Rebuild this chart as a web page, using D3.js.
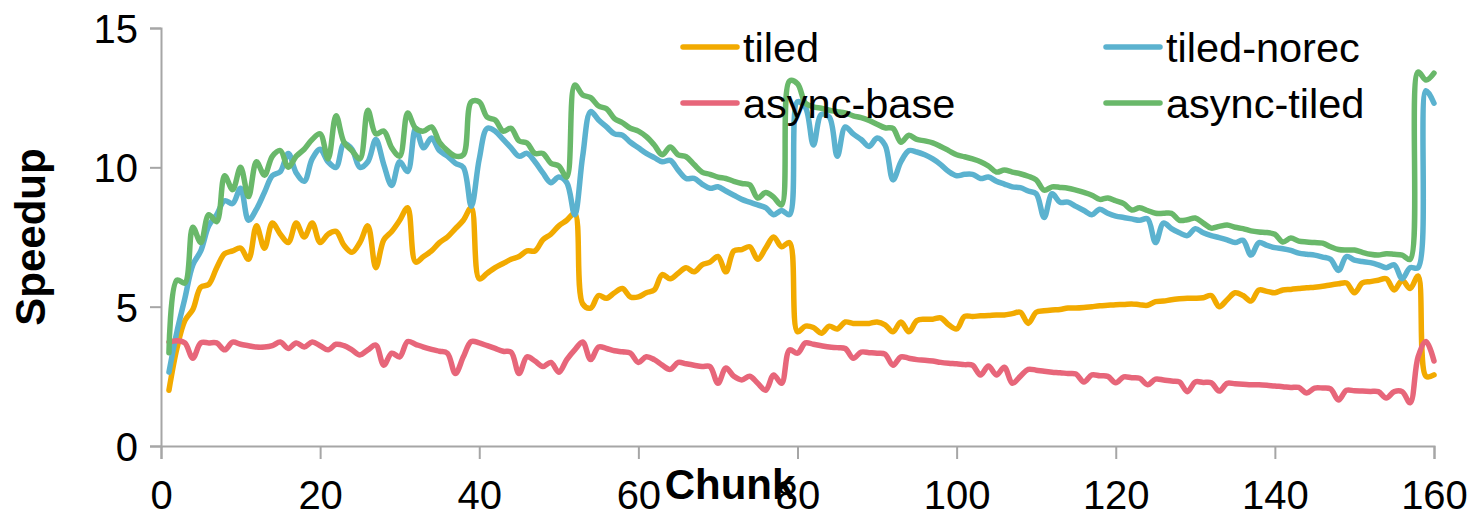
<!DOCTYPE html>
<html>
<head>
<meta charset="utf-8">
<script src="https://cdn.jsdelivr.net/npm/d3@7"></script>
<style>
  body { margin: 0; background: #fff; }
  svg { display: block; font-family: Arial, "Liberation Sans", sans-serif; }
</style>
</head>
<body>
<svg id="chart"></svg>
<script>
// Chart data: speedup per chunk (chunks 1..160)
const chunks = d3.range(1, 161);

const tiled = [
  2.0, 3.5, 4.5, 4.9, 5.7, 5.8, 6.4, 6.9, 7.0, 7.1,
  6.7, 7.9, 7.1, 8.0, 7.6, 7.3, 8.0, 7.5, 8.0, 7.3,
  7.6, 7.7, 7.2, 6.95, 7.3, 7.9, 6.4, 7.4, 7.7, 8.1,
  8.55, 6.6, 6.8, 7.0, 7.3, 7.5, 7.8, 8.1, 8.55, 6.0,
  6.2, 6.4, 6.55, 6.7, 6.8, 7.0, 7.0, 7.4, 7.6, 7.9,
  8.1, 8.35, 5.1, 4.95, 5.4, 5.3, 5.5, 5.65, 5.35, 5.35,
  5.5, 5.6, 6.15, 6.0, 6.2, 6.4, 6.25, 6.5, 6.6, 6.8,
  6.25, 7.0, 7.05, 7.15, 6.7, 7.1, 7.5, 7.15, 7.3, 4.1,
  4.3, 4.25, 4.05, 4.3, 4.2, 4.45, 4.4, 4.4, 4.4, 4.45,
  4.35, 4.1, 4.45, 4.1, 4.5, 4.55, 4.55, 4.6, 4.35, 4.2,
  4.65, 4.65, 4.67, 4.68, 4.7, 4.7, 4.75, 4.8, 4.4, 4.8,
  4.85, 4.88, 4.9, 4.95, 4.95, 4.97, 5.0, 5.03, 5.05, 5.07,
  5.08, 5.1, 5.07, 5.05, 5.18, 5.2, 5.25, 5.28, 5.3, 5.3,
  5.32, 5.4, 5.0, 5.25, 5.5, 5.4, 5.2, 5.6, 5.55, 5.5,
  5.6, 5.62, 5.65, 5.68, 5.7, 5.73, 5.78, 5.82, 5.85, 5.5,
  5.85, 5.9, 5.95, 6.0, 5.6, 5.95, 5.65, 6.1, 2.5, 2.55
];

const tiledNorec = [
  2.65, 4.1, 5.3, 6.5, 7.0, 7.9, 8.3, 8.8, 8.7, 9.25,
  8.1, 8.5, 9.1, 9.7, 9.85, 10.5, 9.8, 9.5, 10.3, 10.65,
  10.2, 10.0, 10.85, 10.65, 10.0, 10.2, 11.0, 10.1, 9.35, 10.2,
  9.85, 11.4, 10.7, 11.05, 10.6, 10.4, 10.15, 10.0, 8.6, 10.3,
  11.4, 11.3, 11.0, 10.7, 10.4, 10.5, 10.2, 9.8, 9.45, 9.65,
  9.45, 8.3, 10.4, 12.0, 11.7, 11.45, 11.2, 11.15, 10.9, 10.7,
  10.5, 10.35, 10.2, 10.25, 9.9, 9.6, 9.6, 9.4, 9.25, 9.3,
  9.15, 9.0, 8.85, 8.75, 8.65, 8.55, 8.3, 8.45, 8.3, 12.35,
  12.15, 10.8, 11.9, 11.8, 10.4, 11.45, 11.2, 11.0, 10.75, 11.05,
  10.8, 9.55, 10.2, 10.6, 10.55, 10.45, 10.3, 10.1, 9.85, 9.7,
  9.75, 9.75, 9.6, 9.65, 9.5, 9.4, 9.3, 9.27, 9.15, 9.05,
  8.2, 9.05, 8.75, 8.75, 8.6, 8.45, 8.3, 8.5, 8.35, 8.25,
  8.2, 8.15, 8.1, 8.15, 7.3, 8.0, 7.8, 7.65, 7.55, 7.8,
  7.65, 7.55, 7.48, 7.4, 7.3, 7.38, 6.85, 7.3, 7.2, 7.12,
  7.08, 7.02, 6.92, 6.88, 6.85, 6.78, 6.7, 6.3, 6.8, 6.67,
  6.62, 6.58, 6.5, 6.4, 6.5, 6.0, 6.4, 6.4, 12.75, 12.3
];

const asyncBase = [
  3.73, 3.78, 3.7, 3.15, 3.7, 3.7, 3.7, 3.45, 3.73, 3.65,
  3.6, 3.55, 3.55, 3.6, 3.73, 3.5, 3.7, 3.55, 3.73, 3.6,
  3.45, 3.65, 3.6, 3.45, 3.27, 3.45, 3.62, 2.9, 3.33, 3.2,
  3.75, 3.65, 3.55, 3.47, 3.4, 3.33, 2.6, 3.2, 3.75, 3.7,
  3.6, 3.5, 3.4, 3.37, 2.6, 3.2, 3.05, 2.85, 3.0, 2.65,
  3.1, 3.45, 3.73, 3.1, 3.55, 3.5, 3.42, 3.38, 3.33, 3.0,
  3.2, 3.1, 2.9, 2.75, 3.0, 2.95, 2.9, 2.85, 2.85, 2.25,
  2.8, 2.5, 2.37, 2.5, 2.25, 2.0, 2.55, 2.25, 3.45, 3.33,
  3.7, 3.65, 3.6, 3.55, 3.53, 3.5, 3.15, 3.37, 3.35, 3.33,
  3.3, 2.9, 3.2, 3.15, 3.1, 3.08, 3.05, 3.0, 2.97, 2.95,
  2.92, 2.9, 2.55, 2.87, 2.55, 2.83, 2.25, 2.5, 2.75, 2.72,
  2.68, 2.65, 2.63, 2.6, 2.58, 2.3, 2.55, 2.52, 2.5, 2.27,
  2.48, 2.45, 2.43, 2.2, 2.4, 2.37, 2.33, 2.3, 1.95, 2.3,
  2.28, 2.27, 1.97, 2.25, 2.23, 2.22, 2.2, 2.2, 2.18, 2.15,
  2.13, 2.1, 2.1, 1.9, 2.08, 2.08, 2.05, 1.65, 2.0, 1.98,
  1.97, 1.96, 1.95, 1.72, 1.95, 1.95, 1.55, 3.2, 3.75, 3.05
];

const asyncTiled = [
  3.35, 5.95, 5.85, 7.85, 7.3, 8.3, 8.05, 9.7, 9.2, 10.0,
  8.95, 10.2, 9.72, 10.4, 10.6, 10.0, 10.4, 10.65, 11.0, 11.2,
  10.3, 11.85, 10.9, 10.6, 10.3, 12.05, 11.2, 11.3, 10.7, 10.4,
  11.95, 11.4, 11.3, 11.45, 10.9, 10.6, 10.4, 10.45, 12.35, 12.35,
  11.8, 11.7, 11.3, 11.4, 10.95, 10.87, 10.5, 10.5, 10.15, 10.05,
  9.65, 12.95, 12.6, 12.5, 12.2, 12.1, 11.75, 11.6, 11.4, 11.3,
  11.1, 10.8, 10.45, 10.73, 10.45, 10.38, 10.1, 9.83, 9.75, 9.65,
  9.6, 9.5, 9.42, 9.37, 8.9, 9.1, 8.93, 8.65, 13.1, 13.0,
  12.3, 12.17, 12.12, 12.05, 12.0, 11.95, 11.85, 11.78, 11.68, 11.55,
  11.42, 11.4, 10.9, 11.15, 11.0, 10.95, 10.88, 10.75, 10.6, 10.45,
  10.38, 10.3, 10.2, 10.05, 9.83, 9.9, 9.83, 9.77, 9.68, 9.55,
  9.18, 9.3, 9.28, 9.25, 9.18, 9.1, 9.0, 8.85, 8.9, 8.8,
  8.7, 8.47, 8.55, 8.45, 8.35, 8.35, 8.35, 8.1, 8.12, 8.18,
  8.0, 7.82, 7.88, 7.93, 7.85, 7.8, 7.72, 7.68, 7.66, 7.6,
  7.32, 7.46, 7.35, 7.32, 7.3, 7.28, 7.15, 7.05, 7.03, 7.03,
  6.95, 6.88, 6.85, 6.9, 6.88, 6.85, 6.7, 13.42, 13.13, 13.38
];

const seriesNames = ["tiled", "tiled-norec", "async-base", "async-tiled"];
const seriesColors = ["#F2AA00", "#5BB2CF", "#E7667A", "#69B86A"];
const xTicks = [0, 20, 40, 60, 80, 100, 120, 140, 160];
const yTicks = [0, 5, 10, 15];

// Canvas
const W = 1478;
const H = 528;
const margin = { top: 28, right: 44, bottom: 82, left: 161 };

const svg = d3.select("#chart").attr("width", W).attr("height", H);

const x = d3.scaleLinear().domain([0, 160]).range([margin.left, W - margin.right]);
const y = d3.scaleLinear().domain([0, 15]).range([H - margin.bottom, margin.top]);

// Axes
const xAxis = svg
  .append("g")
  .attr("transform", `translate(0,${y(0)})`)
  .call(d3.axisBottom(x).tickValues(xTicks).tickSize(13).tickPadding(22));
const yAxis = svg
  .append("g")
  .attr("transform", `translate(${x(0)},0)`)
  .call(d3.axisLeft(y).tickValues(yTicks).tickSize(11).tickPadding(12));

[xAxis, yAxis].forEach((ax) => {
  ax.select(".domain").attr("stroke", "#A6A6A6").attr("stroke-width", 2);
  ax.selectAll(".tick line").attr("stroke", "#A6A6A6").attr("stroke-width", 2);
  ax.selectAll(".tick text")
    .attr("fill", "#000")
    .style("font-size", "40px")
    .style("font-family", "Arial, 'Liberation Sans', sans-serif");
});
yAxis.selectAll(".tick text").attr("dy", "0.36em");

// Lines (smoothed like the original spreadsheet chart)
const allSeries = [tiled, tiledNorec, asyncBase, asyncTiled];
const line = d3
  .line()
  .x((d, i) => x(chunks[i]))
  .y((d) => y(d))
  .curve(d3.curveCatmullRom.alpha(0.5));

allSeries.forEach((vals, k) => {
  svg
    .append("path")
    .datum(vals)
    .attr("fill", "none")
    .attr("stroke", seriesColors[k])
    .attr("stroke-width", 5.5)
    .attr("stroke-linejoin", "round")
    .attr("stroke-linecap", "round")
    .attr("d", line);
});

// Axis titles ("Chunk" sits over the tick labels, as in the original)
svg
  .append("text")
  .attr("x", 730)
  .attr("y", 499)
  .attr("text-anchor", "middle")
  .style("font-size", "42px")
  .style("font-weight", "bold")
  .text("Chunk");

svg
  .append("text")
  .attr("transform", "translate(45,237) rotate(-90)")
  .attr("text-anchor", "middle")
  .style("font-size", "42px")
  .style("font-weight", "bold")
  .text("Speedup");

// Legend (two columns)
const legendPos = [
  [683, 47],
  [1106, 47],
  [683, 103],
  [1106, 103],
];
const legend = svg.append("g").attr("class", "legend");
seriesNames.forEach((name, k) => {
  const [lx, ly] = legendPos[k];
  legend
    .append("line")
    .attr("x1", lx)
    .attr("x2", lx + 54)
    .attr("y1", ly)
    .attr("y2", ly)
    .attr("stroke", seriesColors[k])
    .attr("stroke-width", 5.5)
    .attr("stroke-linecap", "round");
  legend
    .append("text")
    .attr("x", lx + 60)
    .attr("y", ly + 15)
    .style("font-size", "41.5px")
    .text(name);
});
</script>
</body>
</html>
